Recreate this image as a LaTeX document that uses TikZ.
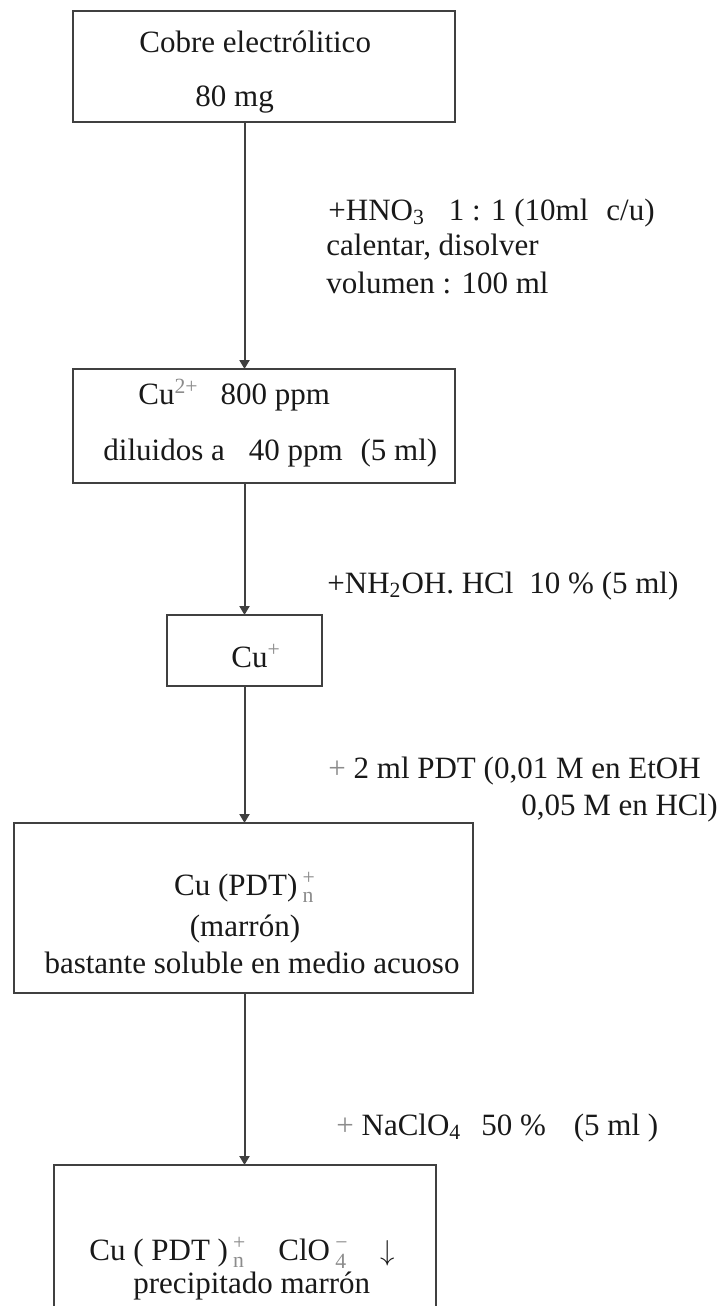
\documentclass[tikz,border=0pt]{standalone}
\usepackage{amsmath}
\usepackage{fontspec}
\setmainfont{Liberation Serif}
\usetikzlibrary{arrows.meta,positioning}
\definecolor{trazo}{RGB}{64,64,64}
\definecolor{tinta}{RGB}{25,25,25}
\definecolor{tenue}{RGB}{140,140,140}
\newcommand{\cargaion}[2]{{\color{tenue}$^{\text{#2}}_{\text{#1}}$}}
\newcommand{\sbi}[1]{\ensuremath{_{\text{#1}}}}
\newcommand{\spi}[1]{{\color{tenue}$^{\text{#1}}$}}

\begin{document}
\begin{tikzpicture}[x=0.5pt, y=-0.5pt, font=\fontsize{15.5}{18}\selectfont, text=tinta,
    caja/.style={draw=trazo, line width=1pt, inner sep=0pt, outer sep=0pt},
    flecha/.style={draw=trazo, line width=1pt, -{Triangle[width=5pt,length=4.5pt]}},
    texto/.style={anchor=base west, inner sep=0pt},
    centro/.style={anchor=base, inner sep=0pt}]
        \path[use as bounding box, clip] (0,0) rectangle (724,1306);

        % Cajas
        \node[caja, minimum width=191pt, minimum height=55.5pt] (cobre) at (264,66.5) {};
        \node[caja, minimum width=191pt, minimum height=57pt] (cu2) at (264,426) {};
        \node[caja, minimum width=77.5pt, minimum height=35.5pt] (cu1) at (244.5,650.5) {};
        \node[caja, minimum width=229.5pt, minimum height=85pt] (complejo) at (243.5,908) {};
        \node[caja, minimum width=191pt, minimum height=100pt] (precip) at (245,1265) {};

        % Textos de las cajas
        \node[texto] (cobreA) at (139,52) {Cobre electrólitico};
        \node[texto] (cobreB) at (195,106) {80 mg};
        \node[texto] (cu2A) at (138,404) {Cu\spi{2+}\hspace{11pt}800 ppm};
        \node[texto] (cu2B) at (103,460) {diluidos a\hspace{12pt}40 ppm\hspace{9pt}(5 ml)};
        \node[texto] (cu1A) at (231,667) {Cu\spi{+}};
        \node[centro] (complejoA) at (245,895) {Cu (PDT)\,\cargaion{n}{+}};
        \node[centro] (complejoB) at (245,936) {(marrón)};
        \node[centro] (complejoC) at (252,973) {bastante soluble en medio acuoso};
        \node[texto] (precipA) at (89,1260) {Cu ( PDT )\,\cargaion{n}{+}\hspace{16pt}ClO\,\cargaion{4}{−}\hspace{16pt}$\downarrow$};
        \node[texto] (precipB) at (133,1293) {precipitado marrón};

        % Flechas
        \draw[flecha] (cobre.south -| cu1) -- (cu2.north -| cu1);
        \draw[flecha] (cu2.south -| cu1) -- (cu1.north);
        \draw[flecha] (cu1.south) -- (complejo.north -| cu1);
        \draw[flecha] (complejo.south -| cu1) -- (precip.north -| cu1);

        % Reactivos
        \node[texto] (pasoA1) at (328,220) {+HNO\sbi{3}\hspace{12pt}1 : 1 (10ml\hspace{9pt}c/u)};
        \node[texto] (pasoA2) at (326,255) {calentar, disolver};
        \node[texto] (pasoA3) at (326,293) {volumen : 100 ml};
        \node[texto] (pasoB) at (327,593) {+NH\sbi{2}OH. HCl\hspace{8pt}10 \% (5 ml)};
        \node[texto] (pasoC1) at (328,778) {{\color{tenue}+} 2 ml PDT (0,01 M en EtOH};
        \node[anchor=base east, inner sep=0pt] (pasoC2) at (718,815) {0,05 M en HCl)};
        \node[texto] (pasoD) at (336,1135) {{\color{tenue}+} NaClO\sbi{4}\hspace{10pt}50 \%\hspace{14pt}(5 ml\ )};
    \end{tikzpicture}
\end{document}
